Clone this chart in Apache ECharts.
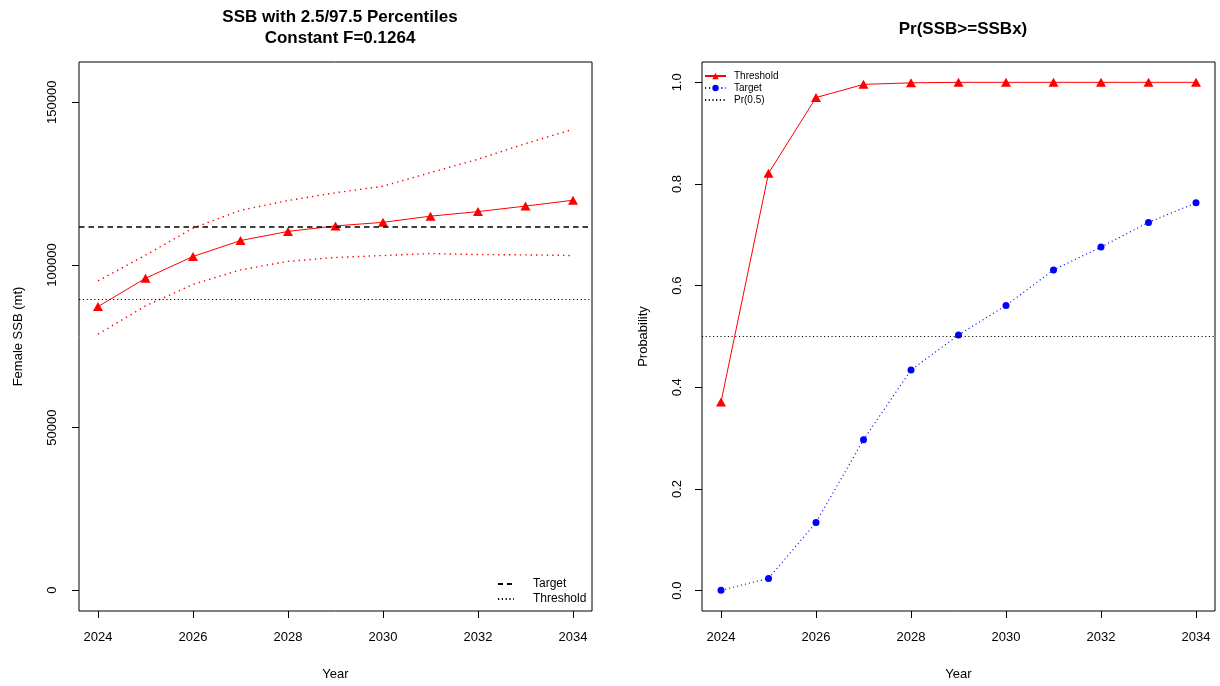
<!DOCTYPE html>
<html><head><meta charset="utf-8">
<script src="https://cdn.jsdelivr.net/npm/echarts@6/dist/echarts.min.js"></script>
<style>html,body{margin:0;padding:0;background:#fff}#c{width:1220px;height:686px}</style>
</head><body><div id="c"></div>
<script>
const years = [2024, 2025, 2026, 2027, 2028, 2029, 2030, 2031, 2032, 2033, 2034];
const ssbMedian = [87200, 95900, 102600, 107500, 110300, 112000, 113100, 115000, 116400, 118100, 119900];
const ssbUpper = [95100, 103000, 111300, 116800, 119800, 122200, 124200, 128400, 132500, 137300, 141700];
const ssbLower = [78700, 87400, 94000, 98500, 101100, 102300, 102900, 103500, 103200, 103100, 102900];
const ssbTarget = 111700;
const ssbThreshold = 89360;
const probThreshold = [0.371, 0.821, 0.970, 0.996, 0.999, 1.0, 1.0, 1.0, 1.0, 1.0, 1.0];
const probTarget = [0.001, 0.024, 0.134, 0.297, 0.434, 0.503, 0.561, 0.631, 0.676, 0.7245, 0.763];
const probRef = 0.5;
const xTicks = [2024, 2026, 2028, 2030, 2032, 2034];
const ssbTicks = [0, 50000, 100000, 150000];
const probTicks = [0, 0.2, 0.4, 0.6, 0.8, 1.0];

const pairs = arr => years.map((y, i) => [y, arr[i]]);
const FONT = 'Liberation Sans, Arial, Helvetica, sans-serif';
const BLACK = '#000';
const RED = '#ff0000';
const BLUE = '#0000ff';

const chart = echarts.init(document.getElementById('c'), null, {renderer: 'canvas'});

function xAxisDef(gridIndex) {
  return {
    gridIndex, type: 'value', min: 2023.6, max: 2034.4,
    axisLine: {show: false, onZero: false},
    axisTick: {show: true, customValues: xTicks, length: 7, lineStyle: {color: BLACK, width: 1}},
    axisLabel: {customValues: xTicks, fontSize: 13, color: BLACK, fontFamily: FONT, margin: 20,
      formatter: v => String(v)},
    splitLine: {show: false},
    name: 'Year', nameLocation: 'middle', nameGap: 57,
    nameTextStyle: {fontSize: 13, color: BLACK, fontFamily: FONT}
  };
}

const legendLabels = {PrThreshold: 'Threshold', PrTarget: 'Target', PrRef: 'Pr(0.5)'};
const refMark = (value, width, dash) => ({
  silent: true, symbol: 'none', label: {show: false},
  lineStyle: {color: BLACK, width, type: dash}, data: [{yAxis: value}]
});

const option = {
  backgroundColor: '#fff',
  animation: false,
  title: [
    {text: 'SSB with 2.5/97.5 Percentiles\nConstant F=0.1264', left: 335, top: 2, textAlign: 'center',
     textStyle: {fontSize: 17, fontWeight: 'bold', color: BLACK, fontFamily: FONT, lineHeight: 21}},
    {text: 'Pr(SSB>=SSBx)', left: 958, top: 16, textAlign: 'center',
     textStyle: {fontSize: 17, fontWeight: 'bold', color: BLACK, fontFamily: FONT}}
  ],
  grid: [
    {left: 79, top: 62, width: 513, height: 551, show: true, borderColor: BLACK, borderWidth: 1, backgroundColor: 'transparent'},
    {left: 702, top: 62, width: 513, height: 551, show: true, borderColor: BLACK, borderWidth: 1, backgroundColor: 'transparent'}
  ],
  xAxis: [xAxisDef(0), xAxisDef(1)],
  yAxis: [
    {gridIndex: 0, type: 'value', min: -6400, max: 162400,
     axisLine: {show: false, onZero: false},
     axisTick: {show: true, customValues: ssbTicks, length: 7, lineStyle: {color: BLACK}},
     axisLabel: {customValues: ssbTicks, rotate: 90, fontSize: 13, color: BLACK, fontFamily: FONT, margin: 20,
       formatter: v => String(v)},
     splitLine: {show: false},
     name: 'Female SSB (mt)', nameLocation: 'middle', nameGap: 54,
     nameTextStyle: {fontSize: 13, color: BLACK, fontFamily: FONT}},
    {gridIndex: 1, type: 'value', min: -0.04, max: 1.04,
     axisLine: {show: false, onZero: false},
     axisTick: {show: true, customValues: probTicks, length: 7, lineStyle: {color: BLACK}},
     axisLabel: {customValues: probTicks, rotate: 90, fontSize: 13, color: BLACK, fontFamily: FONT, margin: 18,
       formatter: v => v.toFixed(1)},
     splitLine: {show: false},
     name: 'Probability', nameLocation: 'middle', nameGap: 52,
     nameTextStyle: {fontSize: 13, color: BLACK, fontFamily: FONT}}
  ],
  legend: [
    {data: ['Target', 'Threshold'], orient: 'vertical', left: 497, top: 578, selectedMode: false, padding: 0,
     itemWidth: 16, itemHeight: 10, itemGap: 3, align: 'left',
     textStyle: {fontSize: 12, color: BLACK, fontFamily: FONT, padding: [0, 0, 0, 14]}},
    {data: ['PrThreshold', 'PrTarget', 'PrRef'], orient: 'vertical', left: 704, top: 70, selectedMode: false, padding: 0,
     itemWidth: 21, itemHeight: 8, itemGap: 0, align: 'left',
     formatter: n => legendLabels[n],
     textStyle: {fontSize: 10, lineHeight: 12, color: BLACK, fontFamily: FONT, padding: [0, 0, 0, 3]}}
  ],
  series: [
    {name: 'SSB', type: 'line', xAxisIndex: 0, yAxisIndex: 0, data: pairs(ssbMedian),
     symbol: 'triangle', symbolSize: [10, 9], itemStyle: {color: RED},
     lineStyle: {color: RED, width: 1}},
    {name: 'Upper', type: 'line', xAxisIndex: 0, yAxisIndex: 0, data: pairs(ssbUpper), symbol: 'none',
     lineStyle: {color: RED, width: 1.4, type: [1.4, 4]}},
    {name: 'Lower', type: 'line', xAxisIndex: 0, yAxisIndex: 0, data: pairs(ssbLower), symbol: 'none',
     lineStyle: {color: RED, width: 1.4, type: [1.4, 4]}},
    {name: 'Target', type: 'line', xAxisIndex: 0, yAxisIndex: 0, data: [], symbol: 'none',
     itemStyle: {color: BLACK, opacity: 0},
     lineStyle: {color: BLACK, width: 1.6, type: [5, 4]},
     markLine: refMark(ssbTarget, 1.6, [5.5, 4])},
    {name: 'Threshold', type: 'line', xAxisIndex: 0, yAxisIndex: 0, data: [], symbol: 'none',
     itemStyle: {color: BLACK, opacity: 0},
     lineStyle: {color: BLACK, width: 1.2, type: [1.2, 2.6]},
     markLine: refMark(ssbThreshold, 1.2, [1.2, 2.6])},
    {name: 'PrThreshold', type: 'line', xAxisIndex: 1, yAxisIndex: 1, data: pairs(probThreshold),
     symbol: 'triangle', symbolSize: [10, 9], itemStyle: {color: RED},
     lineStyle: {color: RED, width: 1}},
    {name: 'PrTarget', type: 'line', xAxisIndex: 1, yAxisIndex: 1, data: pairs(probTarget),
     symbol: 'circle', symbolSize: 7, itemStyle: {color: BLUE},
     lineStyle: {color: BLUE, width: 1.1, type: [1.1, 3]}},
    {name: 'PrRef', type: 'line', xAxisIndex: 1, yAxisIndex: 1, data: [], symbol: 'none',
     itemStyle: {color: BLACK, opacity: 0},
     lineStyle: {color: BLACK, width: 1.1, type: [1.1, 2.6]},
     markLine: refMark(probRef, 1.1, [1.1, 2.6])}
  ]
};
chart.setOption(option);
</script></body></html>
